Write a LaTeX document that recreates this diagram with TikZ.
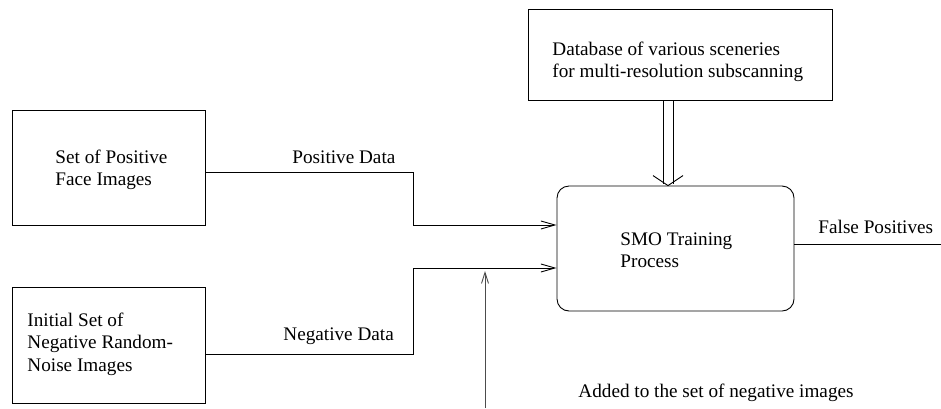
\documentclass[tikz,border=0pt]{standalone}
\usepackage{fontspec}
\setmainfont{Liberation Serif}
\usetikzlibrary{arrows.meta,calc}
\begin{document}
\begin{tikzpicture}[x=1pt,y=-1pt,line width=0.9pt,
  every node/.style={font=\fontsize{19.2}{22.5}\selectfont, inner sep=0pt},
  boxnode/.style={draw, rectangle},
  lbl/.style={anchor=base west},
  txt/.style={anchor=west, align=left},
  arr/.style={-{Straight Barb[length=14pt,width=8pt,line width=0.9pt]}},
  uparr/.style={-{Straight Barb[length=11pt,width=7pt,line width=0.9pt]}, draw=black!70}]
\useasboundingbox (0,0) rectangle (941,408);

% boxes
\node[boxnode, minimum width=193pt, minimum height=115pt] (pos) at (108.5,167.5) {};
\node[txt] (postxt) at (55,170) {Set of Positive\\Face Images};

\node[boxnode, minimum width=193pt, minimum height=116pt] (neg) at (108.5,345) {};
\node[txt] (negtxt) at (27,344) {Initial Set of\\Negative Random-\\Noise Images};

\node[boxnode, minimum width=304pt, minimum height=91pt] (db) at (680,54.5) {};
\node[txt] (dbtxt) at (552,62) {Database of various sceneries\\for multi-resolution subscanning};

\node[boxnode, rounded corners=12pt, minimum width=237pt, minimum height=125pt] (smo) at (675.5,248.5) {};
\node[txt] (smotxt) at (620,250) {SMO Training\\Process};

% labels
\node[lbl] (plab) at (292,163) {Positive Data};
\node[lbl] (nlab) at (283,340) {Negative Data};
\node[lbl] (flab) at (818,233) {False Positives};
\node[lbl] (alab) at (578,397) {Added to the set of negative images};

% junction coordinates
\coordinate (j1) at (413,225);
\coordinate (j2) at (413,268);
\coordinate (fpend) at (941,244);
\coordinate (src) at (485,408);
\coordinate (ds) at ([xshift=-12pt]db.south);

% connectors
\draw[arr] ([yshift=-4.5pt]pos.east) -| (j1) -- (j1 -| smo.west);
\draw[arr] ([yshift=-9pt]neg.east) -| (j2) -- (j2 -| smo.west);
\draw[uparr] (src) -- ($(src |- j2)+(0,3)$);
\draw (fpend -| smo.east) -- (fpend);

% double arrow from database to SMO
\draw ($(ds)+(-5,0)$) -- ($(ds)+(-5,84)$);
\draw ($(ds)+(5,0)$) -- ($(ds)+(5,84)$);
\draw ($(ds |- smo.north)+(-15,-10)$) -- (ds |- smo.north) -- ($(ds |- smo.north)+(15,-10)$);
\end{tikzpicture}
\end{document}
